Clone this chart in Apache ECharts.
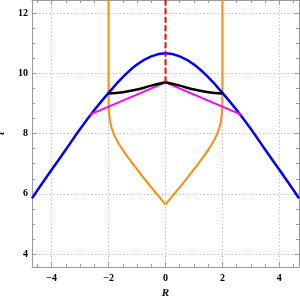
<!DOCTYPE html>
<html>
<head>
<meta charset="utf-8">
<script src="https://cdn.jsdelivr.net/npm/echarts@6/dist/echarts.min.js"></script>
<style>
html,body{margin:0;padding:0;background:#fff;}
#chart{width:300px;height:302px;}
</style>
</head>
<body>
<div id="chart"></div>
<script>
// ---- data ----
const xMajorTicks = [-4, -2, 0, 2, 4];
const xMinorTicks = [-4.5, -3.5, -3, -2.5, -1.5, -1, -0.5, 0.5, 1, 1.5, 2.5, 3, 3.5, 4.5];
const yMajorTicks = [4, 6, 8, 10, 12];
const yMinorTicks = [3.5, 4.5, 5, 5.5, 6.5, 7, 7.5, 8.5, 9, 9.5, 10.5, 11, 11.5];

// blue curve
const blueR = [-4.69, -4.5, -4, -3.5, -3, -2.5, -2, -1.5, -1, -0.5, 0, 0.5, 1, 1.5, 2, 2.5, 3, 3.5, 4, 4.5, 4.69];
const blueT = [5.85, 6.12, 6.80, 7.47, 8.15, 8.78, 9.35, 9.87, 10.29, 10.56, 10.66, 10.56, 10.29, 9.87, 9.35, 8.78, 8.15, 7.47, 6.80, 6.12, 5.85];

// black curve (left and right halves)
const blackLeftR = [-2, -1.5, -1, -0.5, 0];
const blackLeftT = [9.33, 9.37, 9.46, 9.59, 9.70];
const blackRightR = [0, 0.5, 1, 1.5, 2];
const blackRightT = [9.70, 9.59, 9.46, 9.37, 9.33];

// magenta lines
const magentaR = [-2.68, 0, 2.68];
const magentaT = [8.62, 9.70, 8.62];

// orange curve (left and right branches)
const orangeLeftR = [-2, -2, -1.997, -1.99, -1.96, -1.91, -1.82, -1.69, -1.53, -1.35, -1.15, -0.74, -0.31, 0];
const orangeLeftT = [12.6, 9.3, 9.0, 8.78, 8.5, 8.25, 8.0, 7.75, 7.5, 7.25, 7.0, 6.5, 6.0, 5.65];
const orangeRightR = [0, 0.31, 0.74, 1.15, 1.35, 1.53, 1.69, 1.82, 1.91, 1.96, 1.99, 1.997, 2, 2];
const orangeRightT = [5.65, 6.0, 6.5, 7.0, 7.25, 7.5, 7.75, 8.0, 8.25, 8.5, 8.78, 9.0, 9.3, 12.6];

// red dashed line
const redR = [0, 0];
const redT = [9.70, 12.6];

const xRange = [-4.69, 4.69];
const yRange = [3.575, 12.43];

function pairs(a, b) { return a.map((v, i) => [v, b[i]]); }

const FONT = 'Liberation Serif';
const AXIS_COLOR = '#9a9a9a';
const minus = v => String(v).replace('-', '\u2212');

function axisBase(kind, pos, ticks, len, showLine, labels, split) {
  const r = kind === 'x' ? xRange : yRange;
  return {
    type: 'value', position: pos, min: r[0], max: r[1],
    axisLine: { show: showLine, onZero: false, lineStyle: { color: AXIS_COLOR, width: 1 } },
    axisTick: { show: true, inside: true, length: len, customValues: ticks, lineStyle: { color: AXIS_COLOR, width: 1 } },
    axisLabel: labels ? {
      show: true, customValues: ticks, formatter: minus,
      fontFamily: FONT, fontWeight: 'bold', fontSize: 10, color: '#000', margin: kind === 'x' ? 6 : 4
    } : { show: false },
    splitLine: split ? { show: true, lineStyle: { type: [1.5, 2], color: '#c4c4c4', width: 1 } } : { show: false },
    minorTick: { show: false }, minorSplitLine: { show: false },
    axisPointer: { show: false }
  };
}

const xAxes = [
  Object.assign(axisBase('x', 'bottom', xMajorTicks, 5, true, true, true), {
    name: 'R', nameLocation: 'middle', nameGap: 20,
    nameTextStyle: { fontFamily: FONT, fontWeight: 'bold', fontStyle: 'italic', fontSize: 11, color: '#000' }
  }),
  axisBase('x', 'bottom', xMinorTicks, 3, false, false, false),
  axisBase('x', 'top', xMajorTicks, 5, true, false, false),
  axisBase('x', 'top', xMinorTicks, 3, false, false, false)
];
const yAxes = [
  Object.assign(axisBase('y', 'left', yMajorTicks, 5, true, true, true), {
    name: 't', nameLocation: 'middle', nameGap: 21, nameRotate: 90,
    nameTextStyle: { fontFamily: FONT, fontWeight: 'bold', fontStyle: 'italic', fontSize: 11, color: '#000' }
  }),
  axisBase('y', 'left', yMinorTicks, 3, false, false, false),
  axisBase('y', 'right', yMajorTicks, 5, true, false, false),
  axisBase('y', 'right', yMinorTicks, 3, false, false, false)
];

function line(data, color, width, smooth, dash) {
  return {
    type: 'line', xAxisIndex: 0, yAxisIndex: 0, data: data,
    showSymbol: false, symbol: 'none', smooth: smooth, clip: true,
    lineStyle: { color: color, width: width, type: dash || 'solid', cap: 'butt' },
    emphasis: { disabled: true }, silent: true
  };
}

const chart = echarts.init(document.getElementById('chart'), null, { renderer: 'canvas' });
chart.setOption({
  animation: false,
  backgroundColor: '#fff',
  grid: { left: 32, right: 1, top: 0, bottom: 35, outerBoundsMode: 'none', containLabel: false },
  xAxis: xAxes,
  yAxis: yAxes,
  series: [
    line(pairs(orangeLeftR, orangeLeftT), '#ff8a10', 2, 0.3),
    line(pairs(orangeRightR, orangeRightT), '#ff8a10', 2, 0.3),
    line(pairs(blueR, blueT), '#0000ff', 2.5, 0.4),
    line(pairs(magentaR, magentaT), '#ff00ff', 2, false),
    line(pairs(blackLeftR, blackLeftT), '#000000', 2.5, 0.4),
    line(pairs(blackRightR, blackRightT), '#000000', 2.5, 0.4),
    line(pairs(redR, redT), '#ff0000', 2, false, [6, 2.5])
  ]
});
</script>
</body>
</html>
